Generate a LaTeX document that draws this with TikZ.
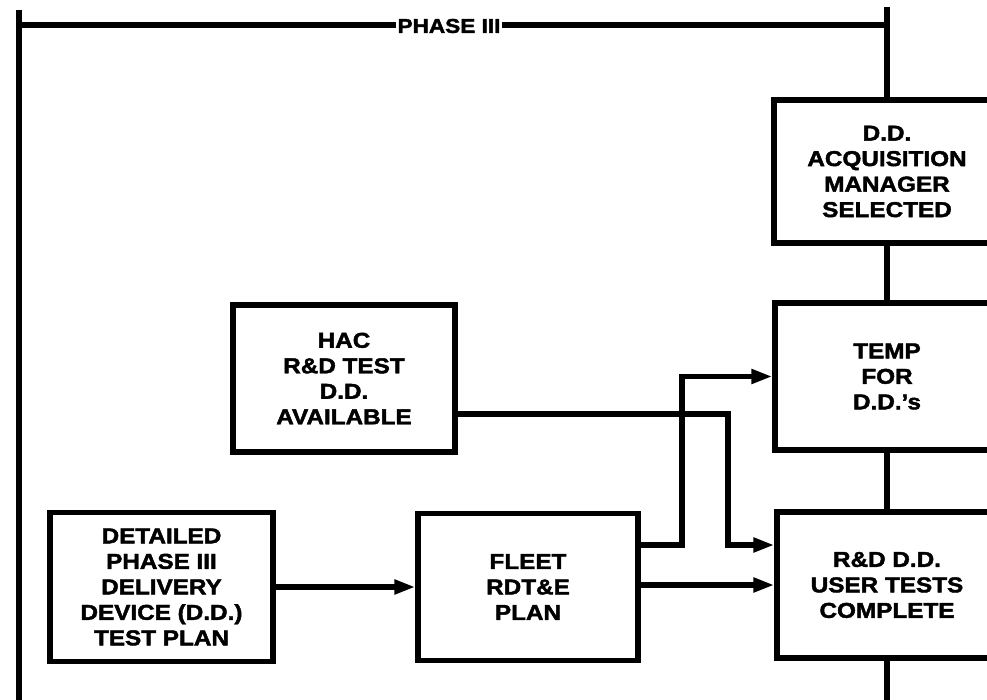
\documentclass[tikz,border=0pt]{standalone}
\usepackage{fontspec}
\setmainfont{Liberation Sans}[FakeStretch=1.13,FakeBold=2]
\usetikzlibrary{arrows.meta}
\begin{document}
\begin{tikzpicture}[x=1pt,y=-1pt,
  every node/.style={font=\fontsize{21.5}{25.5}\selectfont\bfseries, align=center},
  box/.style={draw, line width=5.5pt, rectangle, inner sep=0pt},
  wire/.style={line width=5.5pt},
  arr/.style={line width=5.5pt, -{Triangle[length=21pt,width=14pt]}}]
\useasboundingbox (0,0) rectangle (987,700);
\clip (0,0) rectangle (987,700);
\fill[white] (0,0) rectangle (987,700);

% boxes
\node[box, minimum width=226pt, minimum height=143pt] (acq) at (887,171.5)
  {D.D.\\ACQUISITION\\MANAGER\\SELECTED};
\node[box, minimum width=224pt, minimum height=147pt] (temp) at (887,376.5)
  {TEMP\\FOR\\D.D.'s};
\node[box, minimum width=220pt, minimum height=146pt] (rdd) at (887,585)
  {R\&D D.D.\\USER TESTS\\COMPLETE};
\node[box, minimum width=222pt, minimum height=147pt] (hac) at (344,378.5)
  {HAC\\R\&D TEST\\D.D.\\AVAILABLE};
\node[box, minimum width=220pt, minimum height=147pt] (fleet) at (528,587)
  {FLEET\\RDT\&E\\PLAN};
\node[box, minimum width=223pt, minimum height=149pt] (det) at (161.5,587)
  {DETAILED\\PHASE III\\DELIVERY\\DEVICE (D.D.)\\TEST PLAN};

% phase bracket
\coordinate (ltop) at (19,10);
\coordinate (lbot) at (19,700);
\coordinate (lcorner) at (19,25);
\coordinate (rcorner) at (887,25);
\coordinate (rtop) at (887,7);
\coordinate (bot) at (887,700);
\draw[wire] (ltop) -- (lbot);
\draw[wire] (lcorner) -- (rcorner);
\draw[wire] (rtop) -- (acq.north);
\node[fill=white, inner xsep=2pt, inner ysep=2pt, font=\fontsize{20}{22}\selectfont\bfseries] (phase) at (449,26) {PHASE III};

% vertical chain
\draw[wire] (acq.south) -- (temp.north);
\draw[wire] (temp.south) -- (rdd.north);
\draw[wire] (rdd.south) -- (bot);

% arrows
\draw[arr] (det.east) -- (fleet.west);
\coordinate (fup) at (682,545);
\draw[arr] ([yshift=42pt]fleet.east) -- (fup) |- (temp.west);
\draw[arr] (fleet.east |- rdd.west) -- (rdd.west);
\coordinate (hbend) at (728,414);
\draw[arr] ([yshift=-35.5pt]hac.east) -- (hbend) |- ([yshift=40pt]rdd.west);
\end{tikzpicture}
\end{document}
